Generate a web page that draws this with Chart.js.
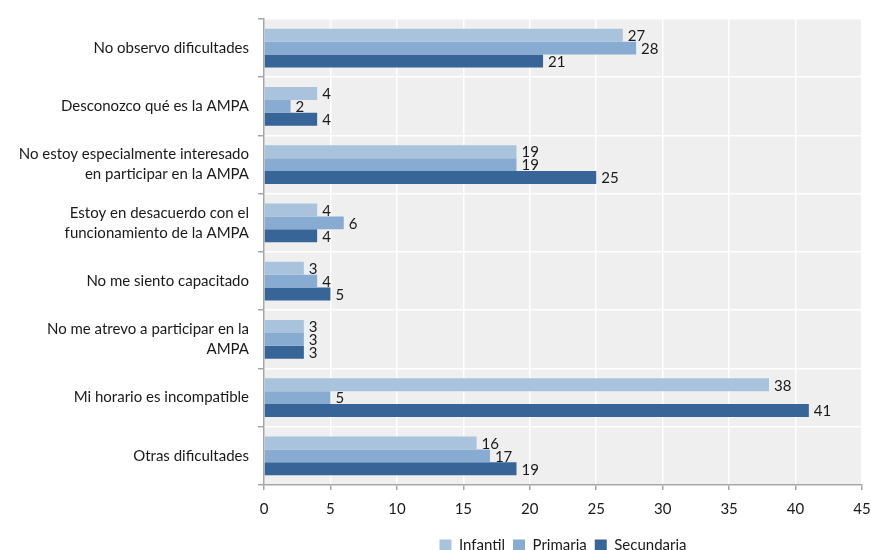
<!DOCTYPE html>
<html>
<head>
<meta charset="utf-8">
<script src="https://cdn.jsdelivr.net/npm/chart.js@4"></script>
<style>
  html, body { margin: 0; padding: 0; background: #ffffff; }
  #wrap { width: 871px; height: 550px; position: relative; }
</style>
</head>
<body>
<div id="wrap"><canvas id="chart" width="871" height="550"></canvas></div>
<script>
// Dificultades para participar en la AMPA, por etapa educativa
const categories = [
  'No observo dificultades',
  'Desconozco qué es la AMPA',
  ['No estoy especialmente interesado', 'en participar en la AMPA'],
  ['Estoy en desacuerdo con el', 'funcionamiento de la AMPA'],
  'No me siento capacitado',
  ['No me atrevo a participar en la', 'AMPA'],
  'Mi horario es incompatible',
  'Otras dificultades'
];
const infantil   = [27, 4, 19, 4, 3, 3, 38, 16];
const primaria   = [28, 2, 19, 6, 4, 3, 5, 17];
const secundaria = [21, 4, 25, 4, 5, 3, 41, 19];
const xTicks = [0, 5, 10, 15, 20, 25, 30, 35, 40, 45];

const FONT = 'Lato, "Open Sans", sans-serif';

// gray plotting area behind the bars
const plotBackground = {
  id: 'plotBackground',
  beforeDraw(chart) {
    const { ctx, chartArea: a } = chart;
    ctx.save();
    ctx.fillStyle = '#efefef';
    ctx.fillRect(a.left, a.top, a.right - a.left, a.bottom - a.top);
    ctx.restore();
  }
};

// value written just past the end of each bar
const valueLabels = {
  id: 'valueLabels',
  afterDatasetsDraw(chart) {
    const { ctx } = chart;
    ctx.save();
    ctx.font = '15px ' + FONT;
    ctx.fillStyle = '#1a1a1a';
    ctx.textAlign = 'left';
    ctx.textBaseline = 'middle';
    chart.data.datasets.forEach((ds, i) => {
      chart.getDatasetMeta(i).data.forEach((bar, j) => {
        ctx.fillText(String(ds.data[j]), bar.x + 5, bar.y + 1);
      });
    });
    ctx.restore();
  }
};

new Chart(document.getElementById('chart'), {
  type: 'bar',
  data: {
    labels: categories,
    datasets: [
      { label: 'Infantil',   data: infantil,   backgroundColor: '#a9c3dd' },
      { label: 'Primaria',   data: primaria,   backgroundColor: '#88abd1' },
      { label: 'Secundaria', data: secundaria, backgroundColor: '#386597' }
    ]
  },
  options: {
    indexAxis: 'y',
    responsive: false,
    animation: false,
    layout: { padding: { top: 17, right: 9, left: 0, bottom: -13 } },
    datasets: {
      bar: { categoryPercentage: 0.667, barPercentage: 1.0 }
    },
    scales: {
      x: {
        min: 0,
        max: 45,
        afterBuildTicks(scale) { scale.ticks = xTicks.map(v => ({ value: v })); },
        grid: { color: '#ffffff', lineWidth: 1.5, tickColor: '#a6a6a6', tickLength: 5 },
        border: { color: '#a6a6a6', width: 1.5 },
        ticks: { color: '#1a1a1a', padding: 10, font: { family: FONT, size: 15 } },
        afterFit(scale) {
          scale.height = 45;
          scale.paddingLeft = 0;
          scale.paddingRight = 0;
        }
      },
      y: {
        grid: { color: '#ffffff', lineWidth: 1.5, tickColor: '#a6a6a6', tickLength: 6, offset: true },
        border: { color: '#a6a6a6', width: 1.5 },
        ticks: { color: '#1a1a1a', padding: 9, font: { family: FONT, size: 15, lineHeight: 1.33 } },
        afterFit(scale) { scale.width = 264; }
      }
    },
    plugins: {
      legend: {
        position: 'bottom',
        fullSize: false,
        labels: {
          boxWidth: 12,
          boxHeight: 12,
          padding: 8,
          color: '#1a1a1a',
          font: { family: FONT, size: 15 }
        }
      },
      tooltip: { enabled: false }
    }
  },
  plugins: [plotBackground, valueLabels]
});
</script>
</body>
</html>
